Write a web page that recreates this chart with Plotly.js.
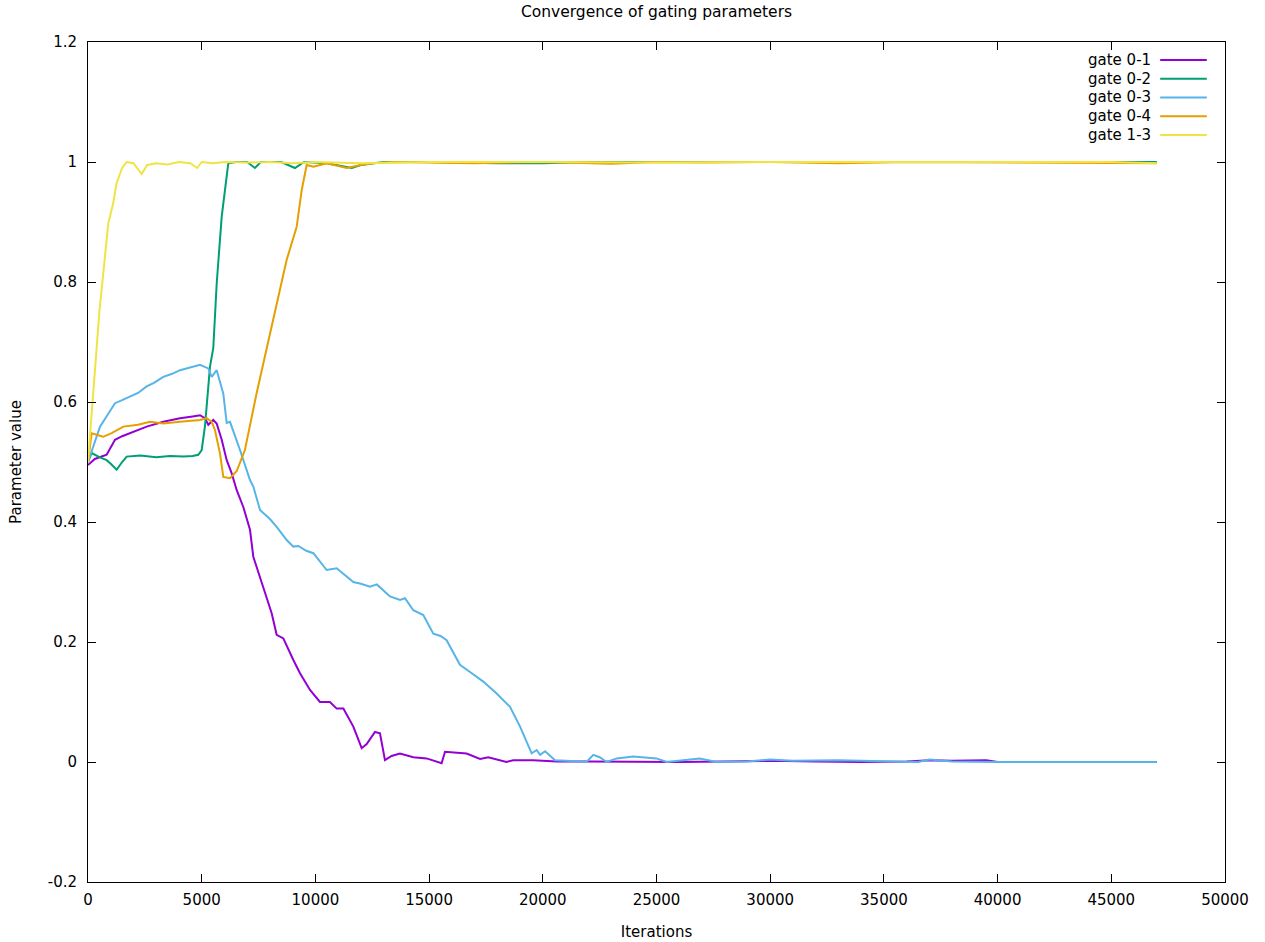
<!DOCTYPE html>
<html>
<head>
<meta charset="utf-8">
<script src="https://cdn.plot.ly/plotly-3.0.1.min.js"></script>
<style>html,body{margin:0;padding:0;background:#fff;}#chart{width:1265px;height:942px;}</style>
</head>
<body>
<div id="chart"></div>
<script>
// ---- data ----
const seriesNames = ["gate 0-1", "gate 0-2", "gate 0-3", "gate 0-4", "gate 1-3"];
const seriesColors = ["#9400d3", "#009e73", "#56b4e9", "#e69f00", "#f0e442"];

const gate01X = [0,300,820,1187,1500,1847,2580,3310,4046,4600,4925,5145,5290,5510,5660,5880,6100,6320,6540,6830,7124,7270,7500,7710,8077,8297,8590,9030,9323,9763,10200,10640,10935,11230,11668,12035,12255,12620,12840,13060,13350,13720,14305,14890,15550,15700,16100,16650,17240,17600,18400,18700,19580,20600,22000,24000,26000,28000,30000,32000,34000,36000,37000,38000,39500,40000,42000,44000,46000,47000];
const gate01Y = [0.495,0.505,0.512,0.537,0.543,0.548,0.559,0.567,0.573,0.576,0.578,0.573,0.562,0.570,0.564,0.537,0.503,0.481,0.453,0.425,0.387,0.342,0.315,0.292,0.248,0.212,0.206,0.170,0.148,0.120,0.100,0.100,0.089,0.089,0.059,0.023,0.030,0.050,0.048,0.003,0.010,0.014,0.008,0.006,-0.002,0.017,0.016,0.014,0.005,0.008,0.000,0.003,0.003,0.001,0.001,0.0,0.0,0.001,0.002,0.001,0.0,0.001,0.003,0.002,0.003,0.0,0.0,0.0,0.0,0.0];

const gate02X = [0,160,500,820,1000,1260,1500,1700,2300,3000,3600,4200,4600,4850,5000,5145,5365,5510,5660,5880,6170,6500,7000,7340,7600,8500,9100,9500,10500,11600,12000,13000,15000,18000,20000,22000,25000,30000,35000,40000,45000,47000];
const gate02Y = [0.50,0.515,0.508,0.503,0.497,0.487,0.500,0.509,0.511,0.508,0.510,0.509,0.510,0.512,0.52,0.56,0.659,0.69,0.798,0.909,0.998,1.0,1.0,0.99,1.0,1.0,0.99,1.0,0.998,0.99,0.995,1.0,1.0,0.998,0.998,1.0,1.0,1.0,1.0,1.0,1.0,1.0];

const gate03X = [0,233,528,800,1187,1500,1847,2200,2580,2900,3310,3700,4046,4500,4925,5290,5440,5660,5950,6100,6245,6684,7124,7270,7564,8000,8297,8737,9030,9250,9600,9910,10200,10496,10935,11375,11668,12000,12400,12700,13000,13280,13720,13940,14305,14745,15185,15500,15770,16356,16800,17383,17970,18557,19000,19510,19730,19880,20100,20540,21000,21930,22222,22500,22810,23250,23980,25000,25450,26900,27650,29000,30000,31000,33000,35000,36500,37000,38000,40000,42000,44000,46000,47000];
const gate03Y = [0.50,0.525,0.559,0.575,0.598,0.603,0.609,0.615,0.626,0.632,0.642,0.647,0.653,0.658,0.662,0.656,0.642,0.653,0.614,0.565,0.567,0.52,0.47,0.459,0.42,0.405,0.392,0.37,0.359,0.36,0.352,0.348,0.335,0.32,0.323,0.309,0.300,0.297,0.292,0.296,0.285,0.276,0.27,0.273,0.253,0.245,0.214,0.21,0.203,0.162,0.15,0.134,0.114,0.092,0.059,0.0145,0.02,0.012,0.018,0.003,0.002,0.0005,0.012,0.008,0.0,0.006,0.009,0.006,0.0,0.006,0.0,0.001,0.004,0.002,0.003,0.001,0.0,0.004,0.001,0.0,0.0,0.0,0.001,0.0];

const gate04X = [0,160,670,1040,1553,2200,2726,3310,4046,4925,5218,5440,5585,5805,5950,6245,6540,6900,7417,8077,8590,8737,9177,9397,9616,9910,10500,11375,12000,12500,13500,15000,17000,20000,23000,25000,27000,30000,33000,36000,40000,44000,47000];
const gate04Y = [0.50,0.548,0.542,0.548,0.559,0.562,0.567,0.564,0.567,0.570,0.573,0.567,0.553,0.514,0.475,0.473,0.485,0.52,0.615,0.726,0.814,0.837,0.892,0.953,0.995,0.992,0.998,0.99,0.995,0.998,1.0,0.999,0.998,1.0,0.997,1.0,0.999,1.0,0.998,1.0,0.999,0.998,0.998];

const gate13X = [0,100,233,500,893,1100,1260,1500,1700,2000,2360,2600,3000,3500,4000,4500,4800,5000,5500,6000,7000,8000,9000,10000,12000,15000,20000,25000,30000,35000,40000,45000,47000];
const gate13Y = [0.50,0.55,0.603,0.75,0.898,0.93,0.965,0.99,1.0,0.998,0.98,0.995,0.998,0.996,1.0,0.998,0.99,1.0,0.998,1.0,0.999,1.0,0.998,1.0,0.998,1.0,1.0,0.999,1.0,1.0,0.999,1.0,0.998];

const xTicks = [0,5000,10000,15000,20000,25000,30000,35000,40000,45000,50000];
const yTicks = [-0.2,0,0.2,0.4,0.6,0.8,1,1.2];

const allX = [gate01X, gate02X, gate03X, gate04X, gate13X];
const allY = [gate01Y, gate02Y, gate03Y, gate04Y, gate13Y];

// ---- traces ----
const FONT = "DejaVu Sans, sans-serif";
const traces = seriesNames.map((n, i) => ({
  type: "scatter", mode: "lines", name: n,
  x: allX[i], y: allY[i],
  line: {color: seriesColors[i], width: 2},
  showlegend: false
}));

// custom gnuplot-style legend (text right, line sample after)
const annotations = [];
const shapes = [];
const legTop = 0.9786, legStep = 0.0223;
seriesNames.forEach((n, i) => {
  const yy = legTop - i * legStep;
  annotations.push({xref: "paper", yref: "paper", x: 0.937, y: yy, xanchor: "right", yanchor: "middle",
    text: n, showarrow: false, font: {family: FONT, size: 15, color: "#000"}});
  shapes.push({type: "line", xref: "paper", yref: "paper", x0: 0.943, x1: 0.984, y0: yy, y1: yy,
    line: {color: seriesColors[i], width: 2}});
});

const axisCommon = {
  showgrid: false, zeroline: false, showline: true, linecolor: "#000", linewidth: 1,
  mirror: "ticks", ticks: "inside", ticklen: 8, tickcolor: "#000", tickwidth: 1,
  tickfont: {family: FONT, size: 15, color: "#000"}
};

const layout = {
  width: 1265, height: 942,
  margin: {l: 88, r: 40, t: 42, b: 60},
  paper_bgcolor: "#fff", plot_bgcolor: "#fff",
  title: {text: "Convergence of gating parameters", x: 0.5, xref: "paper", y: 0.993, yanchor: "top",
    font: {family: FONT, size: 15.5, color: "#000"}},
  xaxis: Object.assign({}, axisCommon, {
    range: [0, 50000], tickvals: xTicks, ticktext: xTicks.map(v => String(v)),
    ticklabelstandoff: 4,
    title: {text: "Iterations", standoff: 18, font: {family: FONT, size: 15, color: "#000"}}
  }),
  yaxis: Object.assign({}, axisCommon, {
    range: [-0.2, 1.2], tickvals: yTicks, ticktext: yTicks.map(v => String(v)),
    ticklabelstandoff: 7,
    title: {text: "Parameter value", standoff: 22, font: {family: FONT, size: 15, color: "#000"}}
  }),
  annotations: annotations,
  shapes: shapes,
  showlegend: false
};

Plotly.newPlot("chart", traces, layout, {displayModeBar: false, staticPlot: true});
</script>
</body>
</html>
